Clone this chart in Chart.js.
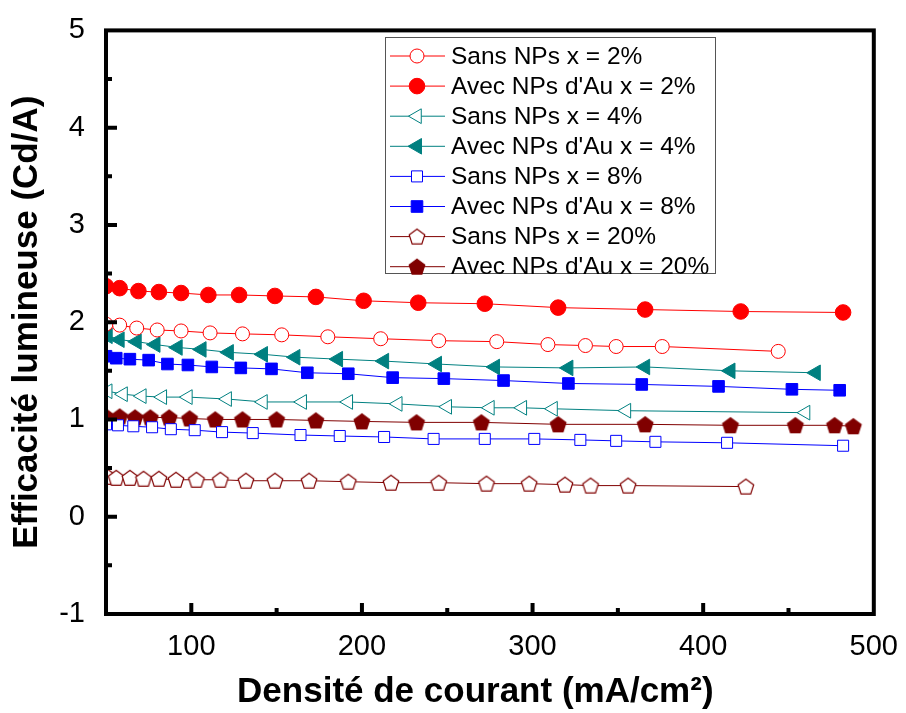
<!DOCTYPE html>
<html>
<head>
<meta charset="utf-8">
<script src="https://cdn.jsdelivr.net/npm/chart.js@4.4.1/dist/chart.umd.min.js"></script>
<style>
  html, body { margin: 0; padding: 0; background: #fff; }
</style>
</head>
<body>
<canvas id="chartCanvas" width="906" height="713"></canvas>
<script>
// series labels
const seriesNames = [
    'Sans NPs x = 2%', "Avec NPs d'Au x = 2%",
    'Sans NPs x = 4%', "Avec NPs d'Au x = 4%",
    'Sans NPs x = 8%', "Avec NPs d'Au x = 8%",
    'Sans NPs x = 20%', "Avec NPs d'Au x = 20%"
]

// current density (mA/cm2) and efficiency (Cd/A)
const sans2X = [50, 58, 68, 80, 94, 111, 130, 153, 180, 211, 245, 279, 309, 331, 349, 376, 444]
const sans2Y = [1.98, 1.97, 1.94, 1.92, 1.91, 1.89, 1.88, 1.87, 1.85, 1.83, 1.81, 1.80, 1.77, 1.76, 1.75, 1.75, 1.70]
const avec2X = [50, 58, 69, 81, 94, 110, 128, 149, 173, 201, 233, 272, 315, 366, 422, 482]
const avec2Y = [2.37, 2.35, 2.32, 2.31, 2.30, 2.28, 2.28, 2.27, 2.26, 2.22, 2.20, 2.19, 2.15, 2.13, 2.11, 2.10]

const sans4X = [51, 60, 71, 83, 98, 121, 142, 165, 192, 221, 250, 275, 294, 312, 355, 460]
const sans4Y = [1.29, 1.26, 1.24, 1.23, 1.23, 1.21, 1.18, 1.18, 1.18, 1.16, 1.13, 1.12, 1.12, 1.11, 1.09, 1.07]
const avec4X = [51, 58, 68, 79, 92, 106, 122, 142, 161, 186, 213, 244, 278, 321, 366, 416, 466]
const avec4Y = [1.86, 1.82, 1.80, 1.77, 1.74, 1.72, 1.69, 1.67, 1.64, 1.62, 1.60, 1.57, 1.54, 1.53, 1.54, 1.50, 1.48]

const sans8X = [50, 57, 66, 77, 88, 102, 118, 136, 164, 187, 213, 242, 272, 301, 328, 349, 372, 414, 482]
const sans8Y = [0.95, 0.94, 0.93, 0.92, 0.90, 0.89, 0.87, 0.86, 0.84, 0.83, 0.82, 0.80, 0.80, 0.80, 0.79, 0.78, 0.77, 0.76, 0.73]
const avec8X = [50, 56, 64, 75, 86, 98, 112, 129, 147, 168, 192, 218, 248, 283, 321, 364, 409, 452, 480]
const avec8Y = [1.65, 1.63, 1.62, 1.61, 1.57, 1.56, 1.54, 1.53, 1.52, 1.48, 1.47, 1.43, 1.42, 1.40, 1.37, 1.36, 1.34, 1.31, 1.30]

const sans20X = [51, 56, 64, 72, 81, 91, 103, 117, 132, 149, 169, 192, 217, 245, 273, 298, 319, 334, 356, 425]
const sans20Y = [0.41, 0.40, 0.40, 0.39, 0.39, 0.38, 0.38, 0.38, 0.37, 0.37, 0.37, 0.36, 0.35, 0.35, 0.34, 0.34, 0.33, 0.32, 0.32, 0.31]
const avec20X = [50, 58, 67, 76, 87, 99, 114, 130, 150, 173, 200, 232, 270, 315, 366, 416, 454, 477, 488]
const avec20Y = [1.03, 1.03, 1.02, 1.02, 1.02, 1.01, 1.00, 1.00, 1.00, 0.99, 0.98, 0.97, 0.97, 0.95, 0.95, 0.94, 0.94, 0.94, 0.93]

// tick labels
const xTicks = [100, 200, 300, 400, 500]
const xMinorTicks = [150, 250, 350, 450]
const yTicks = [-1, 0, 1, 2, 3, 4, 5]
const yMinorTicks = [-0.5, 0.5, 1.5, 2.5, 3.5, 4.5]

const FONT = "'Liberation Sans', Arial, sans-serif"

function pentagon(filled, color) {
    var c = document.createElement('canvas')
    c.width = 20
    c.height = 20
    var g = c.getContext('2d')
    var r = 8.2
    g.beginPath()
    for (var i = 0; i < 5; i++) {
        var a = -Math.PI / 2 + i * 2 * Math.PI / 5
        var px = 10 + r * Math.cos(a)
        var py = 10.8 + r * Math.sin(a)
        if (i === 0) g.moveTo(px, py); else g.lineTo(px, py)
    }
    g.closePath()
    g.fillStyle = filled ? color : '#ffffff'
    g.fill()
    g.lineWidth = 1.2
    g.strokeStyle = color
    g.stroke()
    return c
}

function points(xs, ys) {
    return xs.map((x, i) => ({ x: x, y: ys[i] }))
}

function series(label, xs, ys, color, filled, style, radius, rotation) {
    return {
        label: label,
        data: points(xs, ys),
        borderColor: color,
        borderWidth: 1,
        pointStyle: style,
        pointRadius: radius,
        pointRotation: rotation || 0,
        pointBackgroundColor: filled ? color : '#ffffff',
        pointBorderColor: color,
        pointBorderWidth: 1,
        tension: 0,
        clip: 0
    }
}

const red = '#ff0000', teal = '#008080', blue = '#0000ff', maroon = '#800000'

const datasets = [
    series(seriesNames[0], sans2X, sans2Y, red, false, 'circle', 7),
    series(seriesNames[1], avec2X, avec2Y, red, true, 'circle', 7.8),
    series(seriesNames[2], sans4X, sans4Y, teal, false, 'triangle', 8.5, -90),
    series(seriesNames[3], avec4X, avec4Y, teal, true, 'triangle', 9, -90),
    series(seriesNames[4], sans8X, sans8Y, blue, false, 'rect', 7.8),
    series(seriesNames[5], avec8X, avec8Y, blue, true, 'rect', 8.2),
    series(seriesNames[6], sans20X, sans20Y, maroon, false, pentagon(false, maroon), 8),
    series(seriesNames[7], avec20X, avec20Y, maroon, true, pentagon(true, maroon), 8)
]

// frame, inward ticks and the boxed legend
const framePlugin = {
    id: 'frame',
    afterDraw(chart) {
        const ctx = chart.ctx
        const a = chart.chartArea
        const xs = chart.scales.x, ys = chart.scales.y
        ctx.save()
        ctx.strokeStyle = '#000'
        ctx.lineWidth = 4
        ctx.lineCap = 'butt'
        ctx.strokeRect(a.left, a.top, a.right - a.left, a.bottom - a.top)

        ctx.beginPath()
        xTicks.forEach(v => {
            const p = xs.getPixelForValue(v)
            if (p < a.right - 2) { ctx.moveTo(p, a.bottom); ctx.lineTo(p, a.bottom - 11) }
        })
        xMinorTicks.forEach(v => {
            const p = xs.getPixelForValue(v)
            ctx.moveTo(p, a.bottom); ctx.lineTo(p, a.bottom - 6)
        })
        yTicks.forEach(v => {
            const p = ys.getPixelForValue(v)
            if (p > a.top + 2 && p < a.bottom - 2) { ctx.moveTo(a.left, p); ctx.lineTo(a.left + 11, p) }
        })
        yMinorTicks.forEach(v => {
            const p = ys.getPixelForValue(v)
            ctx.moveTo(a.left, p); ctx.lineTo(a.left + 6, p)
        })
        ctx.stroke()

        // legend
        const bx = 385.5, by = 37.5, bw = 330, bh = 236
        ctx.fillStyle = '#fff'
        ctx.fillRect(bx, by, bw, bh)
        ctx.lineWidth = 1
        ctx.strokeStyle = '#555'
        ctx.strokeRect(bx, by, bw, bh)
        ctx.font = '24.5px ' + FONT
        ctx.textBaseline = 'middle'
        ctx.textAlign = 'left'
        chart.data.datasets.forEach((ds, i) => {
            const yy = 56 + i * 30.1
            ctx.strokeStyle = ds.borderColor
            ctx.lineWidth = 1
            ctx.beginPath()
            ctx.moveTo(390, yy)
            ctx.lineTo(445, yy)
            ctx.stroke()
            ctx.fillStyle = ds.pointBackgroundColor
            ctx.strokeStyle = ds.pointBorderColor
            ctx.lineWidth = 1
            Chart.helpers.drawPoint(ctx, {
                pointStyle: ds.pointStyle,
                rotation: ds.pointRotation,
                radius: ds.pointRadius,
                borderWidth: 1
            }, 417, yy)
            ctx.fillStyle = '#000'
            ctx.fillText(ds.label, 451, yy + 1)
        })
        ctx.restore()
    }
}

const ctx = document.getElementById('chartCanvas')
const chart = new Chart(ctx, {
    type: 'line',
    data: { datasets: datasets },
    options: {
        responsive: false,
        animation: false,
        events: [],
        layout: { padding: { top: 28, right: 28, left: 0, bottom: 0 } },
        plugins: {
            legend: { display: false },
            tooltip: { enabled: false }
        },
        scales: {
            x: {
                type: 'linear',
                min: 50,
                max: 500,
                grid: { display: false },
                border: { display: false },
                afterBuildTicks: s => { s.ticks = xTicks.map(v => ({ value: v })) },
                afterFit: s => { s.height = 99 },
                ticks: {
                    padding: 8,
                    color: '#000',
                    font: { family: FONT, size: 29 }
                },
                title: {
                    display: true,
                    // trailing no-break spaces nudge the centred title a little left, as in the original
                    text: 'Densité de courant (mA/cm²)\u00a0\u00a0\u00a0',
                    color: '#000',
                    padding: { top: 0, bottom: 0 },
                    font: { family: FONT, size: 35, weight: 'bold' }
                }
            },
            y: {
                min: -1,
                max: 5,
                grid: { display: false },
                border: { display: false },
                afterBuildTicks: s => { s.ticks = yTicks.map(v => ({ value: v })) },
                afterFit: s => { s.width = 106 },
                ticks: {
                    padding: 13,
                    color: '#000',
                    font: { family: FONT, size: 29 }
                },
                title: {
                    display: true,
                    text: 'Efficacité lumineuse (Cd/A)',
                    color: '#000',
                    padding: { top: 6, bottom: 0 },
                    font: { family: FONT, size: 35, weight: 'bold' }
                }
            }
        }
    },
    plugins: [framePlugin]
})
</script>
</body>
</html>
